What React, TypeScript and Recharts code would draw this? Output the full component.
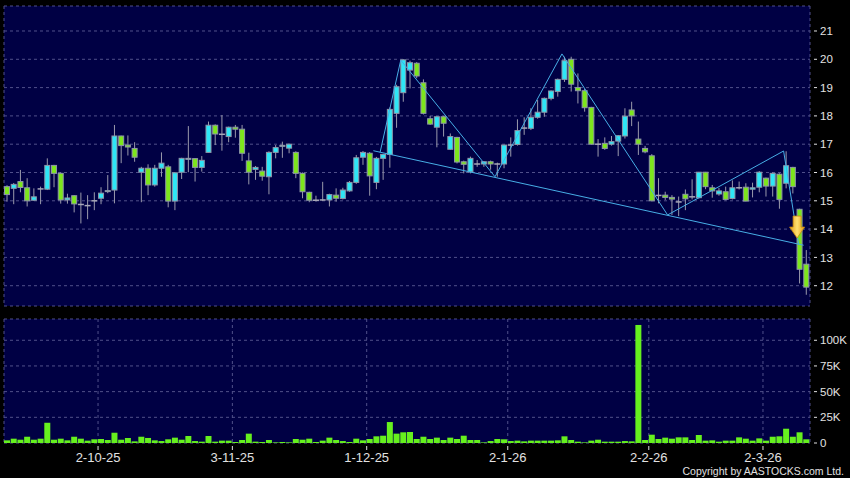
import React from 'react';
import { ComposedChart, Bar, XAxis, YAxis, CartesianGrid, ReferenceLine, ReferenceDot } from 'recharts';

// ---- data ----
const opens = [
  15.5, 15.44, 15.68, 15.46, 15.02, 15.42, 15.41, 16.25, 15.97, 15.03,
  15.18, 14.87, 14.83, 15.0, 15.09, 15.34, 15.38, 17.29, 16.97, 16.85,
  16.01, 16.15, 15.56, 16.15, 16.2, 14.99, 16.01, 16.48, 16.49, 16.18,
  16.71, 17.67, 17.35, 17.27, 17.6, 17.53, 16.41, 16.11, 16.05, 15.85,
  16.71, 16.94, 16.86, 16.71, 15.97, 15.3, 15.02, 15.03, 15.03, 15.2,
  15.08, 15.35, 15.65, 16.54, 16.68, 15.65, 16.5, 16.64, 18.09, 18.82,
  19.62, 19.86, 19.17, 17.9, 17.6, 17.97, 16.82, 17.24, 16.38, 16.02,
  16.3, 16.3, 16.38, 16.3, 16.3, 16.97, 16.99, 17.57, 17.56, 17.95,
  18.13, 18.62, 18.86, 19.29, 20.0, 19.0, 18.89, 18.3, 17.0, 17.03,
  17.0, 17.11, 17.29, 18.21, 17.18, 16.85, 16.59, 15.19, 15.2, 15.12,
  14.96, 15.23, 15.14, 15.11, 16.01, 15.46, 15.24, 15.32, 15.08, 15.46,
  15.48, 15.41, 15.48, 15.8, 15.52, 15.94, 15.62, 16.18, 14.7, 12.76,
];
const highs = [
  15.55, 15.63, 16.09, 15.8, 15.44, 15.5, 16.5, 16.27, 16.0, 15.25,
  15.2, 15.29, 15.2, 15.3, 15.48, 15.91, 17.68, 17.3, 17.31, 17.07,
  16.2, 16.29, 16.27, 16.71, 16.27, 16.0, 16.52, 17.64, 16.5, 16.58,
  17.8, 17.7, 18.03, 17.62, 17.68, 17.68, 16.7, 16.23, 16.2, 16.75,
  16.97, 17.09, 17.02, 16.75, 16.0, 15.32, 15.18, 15.67, 15.25, 15.44,
  15.46, 15.7, 16.62, 16.76, 16.72, 16.55, 16.66, 18.3, 19.1, 20.0,
  19.95, 19.9, 19.29, 18.0, 18.0, 18.0, 17.38, 17.26, 16.42, 16.56,
  16.44, 16.4, 16.42, 16.35, 16.98, 17.24, 17.88, 17.95, 18.27, 18.56,
  18.65, 18.9, 19.32, 20.09, 20.09, 19.5, 18.95, 18.32, 17.18, 17.24,
  17.29, 17.32, 18.27, 18.5, 17.8, 16.94, 16.65, 15.8, 15.32, 15.2,
  15.15, 15.4, 15.76, 16.02, 16.02, 15.56, 15.45, 15.5, 15.72, 15.68,
  15.62, 15.64, 16.05, 15.82, 16.0, 15.97, 16.75, 16.2, 14.72, 13.26,
];
const lows = [
  14.97, 14.88, 15.3, 14.8, 15.0, 14.88, 15.38, 15.48, 14.9, 14.9,
  14.59, 14.2, 14.35, 14.67, 14.88, 15.27, 14.91, 16.33, 16.6, 16.38,
  14.95, 15.2, 15.5, 15.85, 14.77, 14.67, 15.77, 16.01, 15.68, 16.03,
  16.7, 16.97, 16.77, 17.07, 17.23, 16.41, 15.58, 15.74, 15.71, 15.23,
  16.5, 16.52, 16.68, 15.8, 15.09, 14.95, 14.97, 15.0, 14.8, 14.97,
  15.05, 15.32, 15.6, 16.27, 15.18, 15.41, 15.74, 16.17, 17.58, 18.5,
  18.97, 19.33, 18.05, 17.68, 16.89, 17.27, 16.8, 16.32, 15.97, 15.97,
  16.2, 16.2, 16.1, 15.85, 16.15, 16.56, 16.95, 17.33, 17.5, 17.9,
  17.97, 18.55, 18.68, 19.2, 18.86, 18.44, 18.15, 16.98, 16.56, 16.8,
  16.95, 16.58, 17.2, 17.64, 16.62, 16.68, 14.98, 14.91, 15.03, 14.5,
  14.46, 14.67, 15.05, 15.08, 15.41, 15.11, 15.18, 15.02, 15.05, 15.4,
  14.98, 15.12, 15.3, 15.15, 15.15, 14.72, 15.44, 15.26, 12.08, 11.68,
];
const closes = [
  15.22, 15.58, 15.47, 15.0, 15.14, 15.43, 16.25, 15.97, 15.03, 15.1,
  14.89, 14.86, 14.82, 15.0, 15.27, 15.36, 17.29, 16.95, 16.9, 16.54,
  16.15, 15.56, 16.15, 16.33, 14.99, 15.99, 16.5, 16.5, 16.18, 16.43,
  17.67, 17.36, 17.36, 17.6, 17.53, 16.68, 16.01, 16.18, 15.87, 16.71,
  16.88, 16.96, 17.0, 15.97, 15.32, 15.02, 15.03, 15.03, 15.22, 15.09,
  15.38, 15.65, 16.52, 16.71, 15.88, 16.5, 16.64, 18.23, 19.03, 19.98,
  19.88, 19.41, 18.09, 17.71, 17.97, 17.74, 17.27, 16.37, 16.29, 16.5,
  16.3, 16.38, 16.3, 16.3, 16.97, 16.98, 17.48, 17.58, 17.95, 18.13,
  18.62, 18.88, 19.29, 19.95, 19.12, 18.89, 18.29, 17.0, 17.0, 16.85,
  17.09, 17.3, 17.99, 18.0, 17.0, 16.73, 15.0, 15.2, 15.12, 15.06,
  14.97, 15.07, 15.15, 16.01, 15.5, 15.35, 15.35, 15.05, 15.46, 15.46,
  14.99, 15.46, 16.01, 15.52, 15.97, 15.05, 16.24, 15.5, 12.58, 11.95,
];
const volumesK = [
  2.6, 4.2, 3.2, 6.1, 3.2, 4.2, 19.7, 3.2, 4.2, 2.6,
  6.1, 4.2, 2.3, 3.6, 3.9, 2.9, 10.0, 3.2, 4.9, 1.6,
  6.1, 4.9, 2.6, 1.9, 3.6, 5.2, 3.2, 6.8, 1.9, 1.3,
  6.8, 1.3, 2.3, 2.3, 1.0, 2.9, 9.1, 1.3, 1.0, 2.9,
  0.6, 1.0, 0.6, 3.9, 3.2, 4.2, 1.0, 2.3, 5.2, 2.9,
  1.9, 1.0, 4.2, 2.6, 3.9, 6.5, 7.1, 20.4, 9.1, 10.4,
  10.7, 3.9, 6.1, 3.9, 5.2, 2.9, 5.2, 3.9, 7.1, 2.9,
  2.9, 0.6, 1.9, 3.9, 3.6, 1.9, 2.3, 1.6, 2.3, 2.3,
  2.3, 2.3, 2.6, 6.5, 2.9, 1.3, 0.6, 2.3, 3.2, 1.3,
  1.3, 1.3, 1.9, 1.6, 114.9, 2.9, 8.1, 3.9, 5.2, 4.2,
  5.5, 5.5, 2.9, 7.8, 2.3, 2.6, 1.3, 2.3, 2.3, 5.5,
  4.2, 2.3, 4.5, 2.3, 6.1, 6.5, 13.9, 6.1, 10.4, 3.6,
];

// first trading day of each month (candle index) and its label
const monthTicks = [14, 34, 54, 75, 96, 113];
const monthLabels = ['2-10-25', '3-11-25', '1-12-25', '2-1-26', '2-2-26', '2-3-26'];
const priceTicks = [12, 13, 14, 15, 16, 17, 18, 19, 20, 21];
const volTicks = [0, 25, 50, 75, 100];
const volLabels = ['0', '25K', '50K', '75K', '100K'];

// pattern lines (x in candle-index units, y in price)
const neckline = [
  { x: 54.99, y: 16.77 },
  { x: 119.05, y: 13.43 },
];
const zigzag = [
  { x: 55.99, y: 16.71 },
  { x: 59.07, y: 19.97 },
  { x: 73.1, y: 15.85 },
  { x: 83.07, y: 20.19 },
  { x: 98.8, y: 14.5 },
  { x: 116.07, y: 16.76 },
  { x: 118.3, y: 13.48 },
];
const signal = { x: 118.08, y: 14.46 };

const data = opens.map((o, i) => ({
  x: i + 0.5,
  o,
  h: highs[i],
  l: lows[i],
  c: closes[i],
  range: [lows[i], highs[i]],
  v: volumesK[i],
}));

// ---- styles ----
const NAVY = '#000044';
const GRID = '#50508a';
const CYAN = '#2ee6f6';
const GREEN = '#7de61c';
const BORDER = '#8e96a8';
const WICK = '#9a9aac';
const VOL = '#66f01e';
const PAT = '#47aee6';
const TXT = '#e2e2e2';
const FONT = '"Liberation Sans", Arial, sans-serif';

const Candle = (props: any) => {
  const { x, y, width, height, payload } = props;
  if (!payload) return null;
  const cx = x + width / 2;
  const top = Math.min(y, y + height);
  const bot = Math.max(y, y + height);
  const { o, h, l, c } = payload;
  const span = h - l;
  const toY = (v: number) => (span > 0 ? top + ((h - v) / span) * (bot - top) : top);
  const yo = toY(o);
  const yc = toY(c);
  const bt = Math.min(yo, yc);
  const bb = Math.max(yo, yc);
  const up = c > o;
  const flat = Math.abs(c - o) < 0.015;
  return (
    <g>
      <line x1={cx} x2={cx} y1={top} y2={bot} stroke={WICK} strokeWidth={1} />
      {flat ? (
        <line x1={cx - 3} x2={cx + 3} y1={yo} y2={yo} stroke="#a8a8b8" strokeWidth={1.5} />
      ) : (
        <rect
          x={cx - 2.5}
          y={bt}
          width={5}
          height={Math.max(bb - bt, 1)}
          fill={up ? CYAN : GREEN}
          stroke={BORDER}
          strokeWidth={1}
        />
      )}
    </g>
  );
};

const Arrow = (props: any) => {
  const { cx, cy } = props;
  if (cx == null || cy == null) return null;
  const sw = 4; // half shaft width
  const hw = 7.5; // half head width
  const sh = 11; // shaft height
  const hh = 11; // head height
  const pts = [
    [cx - sw, cy],
    [cx + sw, cy],
    [cx + sw, cy + sh],
    [cx + hw, cy + sh],
    [cx, cy + sh + hh],
    [cx - hw, cy + sh],
    [cx - sw, cy + sh],
  ]
    .map((p) => p.join(','))
    .join(' ');
  return (
    <g>
      <defs>
        <linearGradient id="arrowGrad" x1="0" y1="0" x2="1" y2="0">
          <stop offset="0" stopColor="#e39a10" />
          <stop offset="0.5" stopColor="#ffe070" />
          <stop offset="1" stopColor="#e39a10" />
        </linearGradient>
      </defs>
      <polygon points={pts} fill="url(#arrowGrad)" stroke="#c98a10" strokeWidth={0.8} />
    </g>
  );
};

const RightTick = (props: any) => {
  const { x, y, payload, labels, values } = props;
  const val = payload.value;
  let label = String(val);
  if (labels && values) {
    const k = values.indexOf(val);
    if (k >= 0) label = labels[k];
  }
  return (
    <g>
      <line x1={x + 4} x2={x + 7} y1={y} y2={y} stroke={TXT} strokeWidth={1} />
      <text x={x + 10} y={y} dy="0.36em" fill={TXT} fontSize={11.5} fontFamily={FONT}>
        {label}
      </text>
    </g>
  );
};

const DateTick = (props: any) => {
  const { x, y, payload } = props;
  const k = monthTicks.indexOf(payload.value);
  return (
    <g>
      <line x1={x} x2={x} y1={y + 3} y2={y + 7} stroke={TXT} strokeWidth={1} />
      <text x={x} y={y + 19} textAnchor="middle" fill={TXT} fontSize={13} fontFamily={FONT}>
        {k >= 0 ? monthLabels[k] : ''}
      </text>
    </g>
  );
};

export default function App() {
  return (
    <div
      style={{
        position: 'absolute',
        left: 0,
        top: 0,
        width: 850,
        height: 478,
        background: '#000',
        overflow: 'hidden',
      }}
    >
      <div style={{ position: 'absolute', left: 0, top: 0 }}>
        <ComposedChart width={850} height={312} data={data} margin={{ top: 6, right: 0, bottom: 6, left: 4 }}>
          <CartesianGrid stroke={GRID} strokeDasharray="3 3" fill={NAVY} fillOpacity={1} />
          <XAxis
            dataKey="x"
            type="number"
            domain={[0, 120]}
            ticks={monthTicks}
            allowDataOverflow
            height={0}
            tick={false}
            axisLine={false}
            tickLine={false}
          />
          <YAxis
            orientation="right"
            width={40}
            domain={[11.283, 21.883]}
            ticks={priceTicks}
            allowDataOverflow
            axisLine={false}
            tickLine={false}
            tickSize={0}
            tickMargin={0}
            tick={<RightTick />}
          />
          <Bar dataKey="range" barSize={6} shape={<Candle />} isAnimationActive={false} />
          <ReferenceLine segment={[neckline[0], neckline[1]]} stroke={PAT} strokeWidth={1} ifOverflow="visible" />
          {zigzag.slice(1).map((p, k) => (
            <ReferenceLine key={k} segment={[zigzag[k], p]} stroke={PAT} strokeWidth={1} ifOverflow="visible" />
          ))}
          <ReferenceDot x={signal.x} y={signal.y} r={1} ifOverflow="visible" shape={<Arrow />} />
        </ComposedChart>
      </div>
      <div style={{ position: 'absolute', left: 0, top: 312 }}>
        <ComposedChart width={850} height={166} data={data} margin={{ top: 7, right: 0, bottom: 0, left: 4 }}>
          <CartesianGrid stroke={GRID} strokeDasharray="3 3" fill={NAVY} fillOpacity={1} />
          <XAxis
            dataKey="x"
            type="number"
            domain={[0, 120]}
            ticks={monthTicks}
            allowDataOverflow
            height={35}
            axisLine={false}
            tickLine={false}
            tickSize={0}
            tickMargin={0}
            tick={<DateTick />}
            interval={0}
          />
          <YAxis
            orientation="right"
            width={40}
            domain={[0, 120.7]}
            ticks={volTicks}
            allowDataOverflow
            axisLine={false}
            tickLine={false}
            tickSize={0}
            tickMargin={0}
            tick={<RightTick labels={volLabels} values={volTicks} />}
          />
          <Bar dataKey="v" barSize={6} fill={VOL} isAnimationActive={false} />
        </ComposedChart>
      </div>
      <div
        style={{
          position: 'absolute',
          right: 6,
          top: 466,
          color: TXT,
          fontFamily: FONT,
          fontSize: 10.5,
          lineHeight: '10px',
          whiteSpace: 'nowrap',
        }}
      >
        Copyright by AASTOCKS.com Ltd.
      </div>
    </div>
  );
}
